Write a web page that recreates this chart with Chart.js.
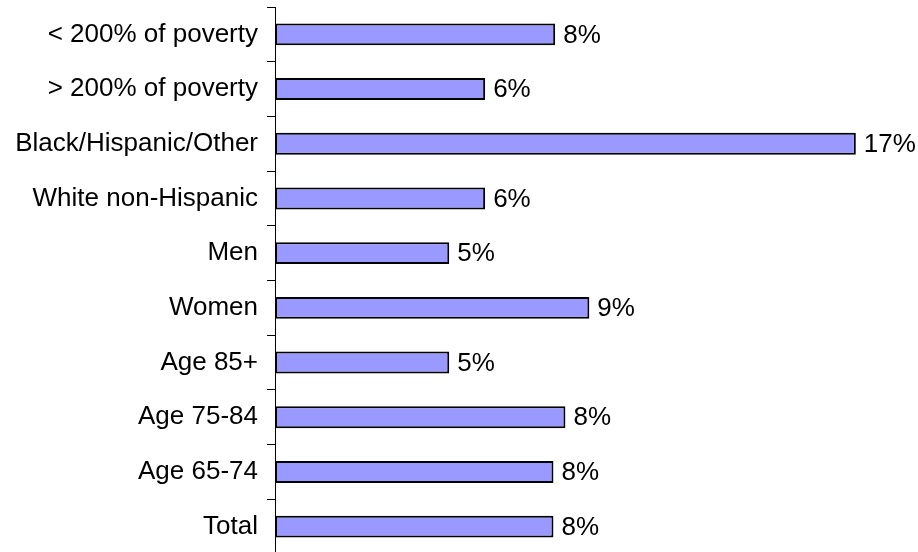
<!DOCTYPE html>
<html>
<head>
<meta charset="utf-8">
<script src="https://cdn.jsdelivr.net/npm/chart.js@4/dist/chart.umd.min.js"></script>
<style>
  html, body { margin: 0; padding: 0; background: #fff; overflow: hidden; }
  #wrap { width: 918px; height: 556px; position: relative; }
</style>
</head>
<body>
<div id="wrap"><canvas id="chart"></canvas></div>
<script>
// Data (top to bottom)
const categories = ['< 200% of poverty', '> 200% of poverty', 'Black/Hispanic/Other', 'White non-Hispanic',
    'Men', 'Women', 'Age 85+', 'Age 75-84', 'Age 65-74', 'Total'];
const values = [8.2, 6.15, 17, 6.15, 5.1, 9.2, 5.1, 8.5, 8.15, 8.15];
const valueLabels = ['8%', '6%', '17%', '6%', '5%', '9%', '5%', '8%', '8%', '8%'];

const fontFamily = '"Liberation Sans", Arial, sans-serif';

// Draws the percentage text just past the end of each bar
const barLabels = {
    id: 'barLabels',
    afterDatasetsDraw(chart) {
        const ctx = chart.ctx;
        const meta = chart.getDatasetMeta(0);
        ctx.save();
        ctx.font = '26px ' + fontFamily;
        ctx.fillStyle = '#000';
        ctx.textAlign = 'left';
        ctx.textBaseline = 'middle';
        meta.data.forEach((bar, i) => {
            ctx.fillText(valueLabels[i], bar.x + 8, bar.y + 1);
        });
        ctx.restore();
    }
};

new Chart(document.getElementById('chart'), {
    type: 'bar',
    data: {
        labels: categories,
        datasets: [{
            data: values,
            backgroundColor: '#9999ff',
            borderColor: '#000',
            borderWidth: 2,
            borderSkipped: false,
            barPercentage: 0.4,
            categoryPercentage: 1
        }]
    },
    options: {
        indexAxis: 'y',
        responsive: true,
        maintainAspectRatio: false,
        animation: false,
        layout: { padding: { top: 7, right: 28, bottom: 2, left: 0 } },
        plugins: {
            legend: { display: false },
            tooltip: { enabled: false }
        },
        scales: {
            x: {
                display: false,
                min: 0,
                max: 18
            },
            y: {
                offset: true,
                afterFit: (scale) => {
                    scale.width = 275;
                    scale.paddingTop = 0;
                    scale.paddingBottom = 0;
                },
                grid: {
                    display: true,
                    offset: true,
                    drawOnChartArea: false,
                    drawTicks: true,
                    tickLength: 8,
                    color: '#000'
                },
                border: { display: true, color: '#000', width: 1 },
                ticks: {
                    color: '#000',
                    padding: 9,
                    font: { family: fontFamily, size: 26 }
                }
            }
        }
    },
    plugins: [barLabels]
});
</script>
</body>
</html>
